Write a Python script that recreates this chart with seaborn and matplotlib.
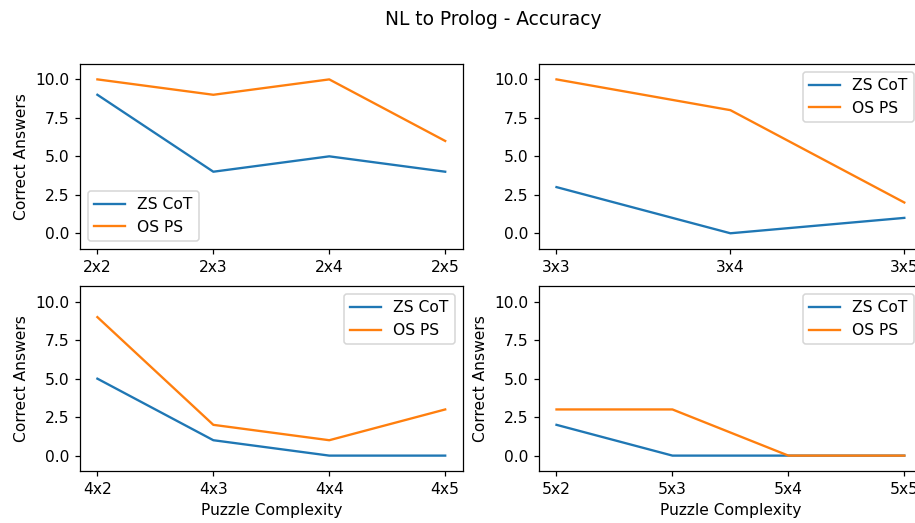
import matplotlib
matplotlib.use("Agg")
import matplotlib.pyplot as plt
import seaborn as sns
import pandas as pd

series_names = ["ZS CoT", "OS PS"]

cats_2 = ["2x2", "2x3", "2x4", "2x5"]
zs_2 = [9, 4, 5, 4]
os_2 = [10, 9, 10, 6]

cats_3 = ["3x3", "3x4", "3x5"]
zs_3 = [3, 0, 1]
os_3 = [10, 8, 2]

cats_4 = ["4x2", "4x3", "4x4", "4x5"]
zs_4 = [5, 1, 0, 0]
os_4 = [9, 2, 1, 3]

cats_5 = ["5x2", "5x3", "5x4", "5x5"]
zs_5 = [2, 0, 0, 0]
os_5 = [3, 3, 0, 0]

panels = [
    (cats_2, zs_2, os_2, "lower left", False, True),
    (cats_3, zs_3, os_3, "upper right", False, False),
    (cats_4, zs_4, os_4, "upper right", True, True),
    (cats_5, zs_5, os_5, "upper right", True, True),
]

DPI = 111.6
fig, axes = plt.subplots(2, 2, figsize=(915/DPI, 523/DPI), dpi=DPI)
fig.subplots_adjust(left=80/915, right=921.7/915, top=1-64/523, bottom=1-471/523,
                    wspace=0.2, hspace=0.204)

colors = ["#1f77b4", "#ff7f0e"]
for ax, (cats, zs, osv, loc, xl, yl) in zip(axes.flat, panels):
    df = pd.DataFrame({
        "Puzzle Complexity": cats + cats,
        "Correct Answers": zs + osv,
        "Method": [series_names[0]] * len(cats) + [series_names[1]] * len(cats),
    })
    sns.lineplot(data=df, x="Puzzle Complexity", y="Correct Answers", hue="Method",
                 palette=colors, ax=ax, linewidth=1.5)
    ax.set_ylim(-1, 11)
    ax.set_yticks([0, 2.5, 5, 7.5, 10])
    ax.legend(loc=loc)
    if not xl:
        ax.set_xlabel("")
    if not yl:
        ax.set_ylabel("")

fig.suptitle("NL to Prolog - Accuracy", x=493/915)
fig.savefig("out.png", dpi=DPI)
